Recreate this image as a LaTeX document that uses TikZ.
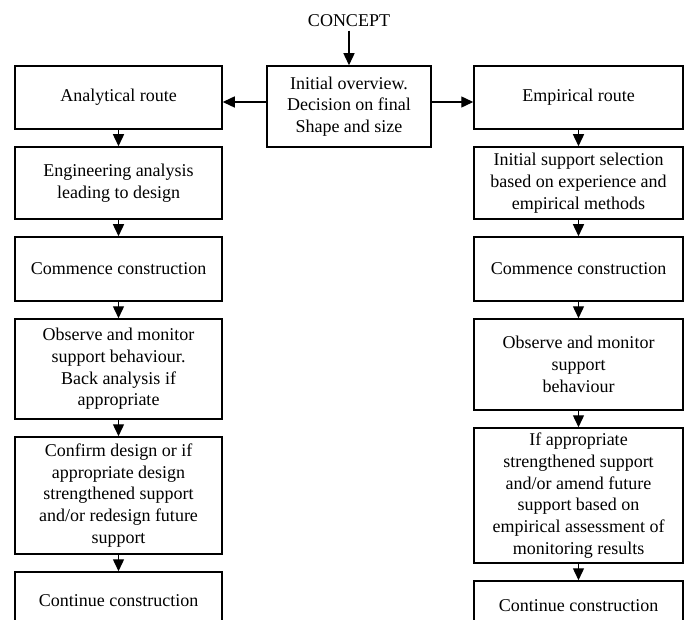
\documentclass[tikz,border=0pt]{standalone}
\usepackage{fontspec}
\setmainfont{Liberation Serif}
\usetikzlibrary{arrows.meta}

\begin{document}
\begin{tikzpicture}[x=1pt,y=-1pt,
    box/.style={draw, line width=1.5pt, align=center, inner sep=0pt},
    arr/.style={line width=1.4pt, -{Triangle[length=12pt,width=11pt]}},
    font=\fontsize{18}{21.7}\selectfont]
    \useasboundingbox (0,0) rectangle (685,620);
    \clip (0,0) rectangle (685,620);
    \begin{scope}

    % centre
    \node (concept) at (349,21) {CONCEPT};
    \node [box, minimum width=164, minimum height=81] (overview) at (349,106.5)
        {Initial overview.\\ Decision on final\\ Shape and size};
    \coordinate (split) at (349,102);

    % analytical route
    \node [box, minimum width=207, minimum height=63]  (analytical)  at (118.5,97.5) {Analytical route};
    \node [box, minimum width=207, minimum height=72]  (engineering) at (118.5,183)
        {Engineering analysis\\ leading to design};
    \node [box, minimum width=207, minimum height=64]  (commenceL)   at (118.5,269) {Commence construction};
    \node [box, minimum width=207, minimum height=100] (observeL)    at (118.5,369)
        {Observe and monitor\\ support behaviour.\\ Back analysis if\\ appropriate};
    \node [box, minimum width=207, minimum height=117] (confirm)     at (118.5,495.5)
        {Confirm design or if\\ appropriate design\\ strengthened support\\ and/or redesign future\\ support};
    \node [box, minimum width=207, minimum height=58]  (continueL)   at (118.5,601) {Continue construction};

    % empirical route
    \node [box, minimum width=209, minimum height=63]  (empirical)   at (578.5,97.5) {Empirical route};
    \node [box, minimum width=209, minimum height=72]  (initial)     at (578.5,183)
        {Initial support selection\\ based on experience and\\ empirical methods};
    \node [box, minimum width=209, minimum height=64]  (commenceR)   at (578.5,269) {Commence construction};
    \node [box, minimum width=209, minimum height=91]  (observeR)    at (578.5,364.5)
        {Observe and monitor\\ support\\ behaviour};
    \node [box, minimum width=209, minimum height=135] (amend)       at (578.5,495.5)
        {If appropriate\\ strengthened support\\ and/or amend future\\ support based on\\ empirical assessment of\\ monitoring results};
    \node [box, minimum width=209, minimum height=50]  (continueR)   at (578.5,606) {Continue construction};

    \draw [arr] (concept) -- (overview);
    \draw [arr] (overview.west |- split) -- (analytical.east |- split);
    \draw [arr] (overview.east |- split) -- (empirical.west |- split);

    \foreach \a/\b in {analytical/engineering, engineering/commenceL, commenceL/observeL,
        observeL/confirm, confirm/continueL, empirical/initial, initial/commenceR,
        commenceR/observeR, observeR/amend, amend/continueR}{%
        \draw [arr] (\a) -- (\b);}
    \end{scope}
\end{tikzpicture}
\end{document}
